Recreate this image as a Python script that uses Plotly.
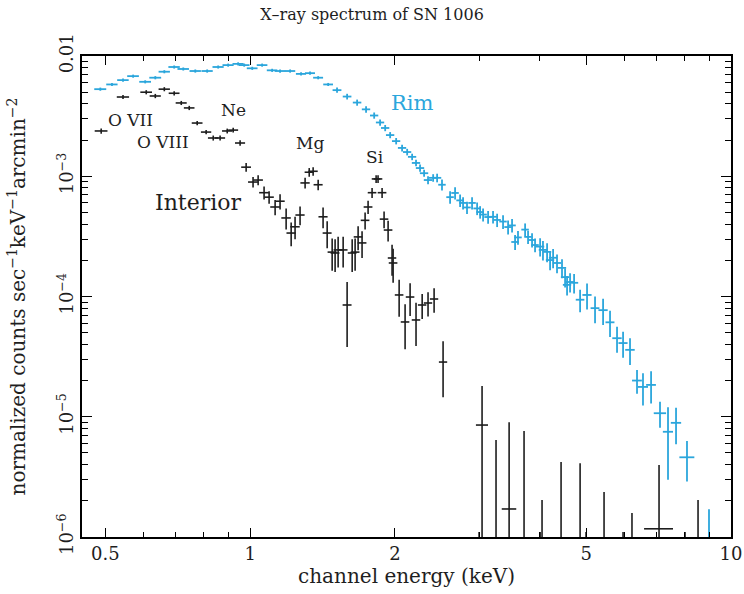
import numpy as np
import plotly.graph_objects as go

# ---------------- data ----------------
# Rim spectrum (blue)
rim_e = [0.488, 0.516, 0.544, 0.571, 0.605, 0.635, 0.663, 0.695, 0.726, 0.769,
         0.814, 0.858, 0.900, 0.944, 0.972, 1.010, 1.059, 1.111, 1.154, 1.211,
         1.276, 1.332, 1.385, 1.453, 1.516, 1.591, 1.669, 1.742, 1.811, 1.863,
         1.909, 1.955, 2.012, 2.070, 2.121, 2.172, 2.213, 2.256, 2.300, 2.344,
         2.402, 2.448, 2.506, 2.605, 2.668, 2.733, 2.772, 2.825, 2.894, 2.965,
         3.008, 3.051, 3.125, 3.200, 3.263, 3.357, 3.439, 3.505, 3.556, 3.606,
         3.731, 3.784, 3.857, 3.913, 4.009, 4.064, 4.145, 4.205, 4.266, 4.347,
         4.452, 4.518, 4.561, 4.627, 4.717, 4.855, 5.019, 5.215, 5.42, 5.603,
         5.794, 5.964, 6.166, 6.376, 6.561, 6.82, 7.118, 7.396, 7.686, 8.10, 9.0]
rim_cts = [5.3e-3, 5.8e-3, 6.3e-3, 6.8e-3, 6.1e-3, 6.6e-3, 7.4e-3, 8.1e-3, 7.8e-3, 7.5e-3,
           7.5e-3, 8.1e-3, 8.4e-3, 8.6e-3, 8.4e-3, 7.9e-3, 8.4e-3, 7.6e-3, 7.5e-3, 7.5e-3,
           7.1e-3, 7.2e-3, 6.6e-3, 5.8e-3, 5.2e-3, 4.6e-3, 4.1e-3, 3.6e-3, 3.2e-3, 2.8e-3,
           2.52e-3, 2.2e-3, 1.96e-3, 1.72e-3, 1.59e-3, 1.45e-3, 1.29e-3, 1.17e-3, 1.06e-3, 9.3e-4,
           9.7e-4, 9.7e-4, 8.5e-4, 6.7e-4, 7.26e-4, 6.3e-4, 6.0e-4, 5.5e-4, 6.0e-4, 5.4e-4,
           5.04e-4, 4.8e-4, 4.58e-4, 4.6e-4, 4.33e-4, 4.2e-4, 3.78e-4, 3.9e-4, 2.84e-4, 3.1e-4,
           3.6e-4, 3.13e-4, 2.95e-4, 2.68e-4, 2.6e-4, 2.44e-4, 2.35e-4, 2.01e-4, 2.1e-4, 1.9e-4,
           1.73e-4, 1.45e-4, 1.25e-4, 1.32e-4, 1.3e-4, 9.4e-5, 1.03e-4, 8.0e-5, 7.7e-5, 6.1e-5,
           4.5e-5, 4.1e-5, 3.6e-5, 2.0e-5, 1.77e-5, 1.84e-5, 1.07e-5, 7.5e-6, 8.9e-6, 4.6e-6, 1.0e-6]
rim_err_hi = [1.6e-4, 1.7e-4, 1.9e-4, 2.0e-4, 1.8e-4, 2.0e-4, 2.2e-4, 2.4e-4, 2.3e-4, 2.3e-4,
              2.3e-4, 2.4e-4, 2.5e-4, 2.6e-4, 2.5e-4, 2.4e-4, 2.5e-4, 2.3e-4, 2.3e-4, 2.3e-4,
              2.1e-4, 2.2e-4, 2.0e-4, 1.7e-4, 2.6e-4, 2.5e-4, 2.4e-4, 2.2e-4, 1.9e-4, 1.7e-4,
              1.5e-4, 1.3e-4, 1.2e-4, 1.1e-4, 1.0e-4, 9e-5, 8e-5, 8e-5, 7e-5, 7e-5,
              7e-5, 8e-5, 9e-5, 8e-5, 8.5e-5, 7.5e-5, 7e-5, 6.5e-5, 7e-5, 6.5e-5,
              6e-5, 6e-5, 5.5e-5, 5.5e-5, 5.5e-5, 5.5e-5, 5e-5, 5e-5, 4e-5, 4e-5,
              4.5e-5, 4e-5, 4e-5, 3.5e-5, 4.5e-5, 4.5e-5, 4.2e-5, 3.6e-5, 3.8e-5, 3.4e-5,
              3.1e-5, 2.6e-5, 2.3e-5, 2.4e-5, 2.4e-5, 2.0e-5, 2.5e-5, 2.0e-5, 1.9e-5, 1.5e-5,
              1.1e-5, 1.0e-5, 9e-6, 4.5e-6, 5.3e-6, 5.5e-6, 2.6e-6, 4.5e-6, 3.0e-6, 1.7e-6, 0.7e-6]
rim_err_lo = rim_err_hi[:-1] + [1.0e-6]
rim_halfwidth = [0.014, 0.014, 0.015, 0.016, 0.017, 0.018, 0.018, 0.019, 0.020, 0.021,
                 0.022, 0.023, 0.024, 0.025, 0.025, 0.026, 0.027, 0.028, 0.029, 0.030,
                 0.031, 0.032, 0.033, 0.034, 0.032, 0.033, 0.034, 0.035, 0.036, 0.037,
                 0.038, 0.039, 0.040, 0.041, 0.042, 0.043, 0.044, 0.045, 0.046, 0.047,
                 0.048, 0.049, 0.045, 0.047, 0.048, 0.049, 0.050, 0.051, 0.052, 0.053,
                 0.054, 0.055, 0.056, 0.058, 0.059, 0.060, 0.062, 0.063, 0.064, 0.065,
                 0.067, 0.068, 0.069, 0.070, 0.080, 0.081, 0.083, 0.084, 0.085, 0.087,
                 0.089, 0.090, 0.091, 0.093, 0.094, 0.10, 0.11, 0.11, 0.12, 0.12,
                 0.13, 0.13, 0.14, 0.15, 0.16, 0.16, 0.21, 0.18, 0.19, 0.29, 0.0]

# Interior spectrum (black)
int_e = [0.490, 0.544, 0.608, 0.635, 0.663, 0.695, 0.719, 0.747, 0.776, 0.810,
         0.838, 0.866, 0.896, 0.922, 0.953, 0.981, 1.014, 1.039, 1.069, 1.095,
         1.127, 1.154, 1.188, 1.217, 1.240, 1.270, 1.301, 1.327, 1.352, 1.385,
         1.418, 1.446, 1.481, 1.502, 1.524, 1.561, 1.591, 1.630, 1.653, 1.677,
         1.709, 1.734, 1.759, 1.793, 1.828, 1.845, 1.881, 1.899, 1.936, 1.973,
         1.983, 2.041, 2.100, 2.151, 2.213, 2.279, 2.344, 2.413, 2.519, 3.036,
         3.456, 7.085]
int_cts = [2.38e-3, 4.56e-3, 5.0e-3, 4.65e-3, 5.3e-3, 4.9e-3, 4.07e-3, 3.7e-3, 2.77e-3, 2.33e-3,
           2.08e-3, 2.08e-3, 2.38e-3, 2.42e-3, 1.89e-3, 1.19e-3, 8.95e-4, 9.3e-4, 7.3e-4, 6.7e-4,
           5.55e-4, 6.2e-4, 4.5e-4, 3.37e-4, 3.8e-4, 4.76e-4, 8.8e-4, 1.08e-3, 1.1e-3, 8.5e-4,
           4.6e-4, 3.37e-4, 2.34e-4, 2.3e-4, 2.44e-4, 2.44e-4, 8.5e-5, 2.3e-4, 2.34e-4, 3.13e-4,
           2.79e-4, 4.3e-4, 5.55e-4, 7.3e-4, 9.5e-4, 9.5e-4, 7.3e-4, 4.4e-4, 3.57e-4, 2.09e-4,
           1.9e-4, 1.03e-4, 6.14e-5, 9.9e-5, 6.38e-5, 8.5e-5, 8.83e-5, 9.53e-5, 2.85e-5, 8.53e-6,
           1.71e-6, 1.17e-6]
int_err_hi = [1.2e-4, 1.8e-4, 2.0e-4, 1.9e-4, 2.1e-4, 2.0e-4, 1.6e-4, 1.5e-4, 1.1e-4, 1.0e-4,
              1.0e-4, 1.0e-4, 1.1e-4, 1.1e-4, 1.0e-4, 1.0e-4, 9e-5, 9e-5, 9e-5, 8e-5,
              8e-5, 9e-5, 9e-5, 7.5e-5, 8e-5, 8.5e-5, 9e-5, 9e-5, 9e-5, 8.5e-5,
              9e-5, 8.5e-5, 7e-5, 7e-5, 7e-5, 7e-5, 4.7e-5, 7e-5, 7e-5, 7e-5,
              7e-5, 7e-5, 7e-5, 7e-5, 7e-5, 7e-5, 7e-5, 7e-5, 7e-5, 6e-5,
              6e-5, 3.5e-5, 2.5e-5, 3e-5, 2.5e-5, 2e-5, 2e-5, 2.2e-5, 1.4e-5, 9.5e-6,
              7.3e-6, 2.8e-6]
int_err_lo = int_err_hi[:-3] + [8.53e-6, 1.71e-6, 1.17e-6]
int_halfwidth = [0.015, 0.016, 0.017, 0.017, 0.018, 0.018, 0.019, 0.019, 0.020, 0.020,
                 0.021, 0.021, 0.022, 0.022, 0.023, 0.023, 0.024, 0.024, 0.025, 0.025,
                 0.026, 0.026, 0.027, 0.027, 0.028, 0.028, 0.029, 0.029, 0.030, 0.030,
                 0.031, 0.031, 0.032, 0.032, 0.033, 0.033, 0.034, 0.034, 0.035, 0.035,
                 0.036, 0.036, 0.037, 0.037, 0.038, 0.038, 0.039, 0.039, 0.040, 0.040,
                 0.041, 0.042, 0.043, 0.044, 0.045, 0.046, 0.047, 0.048, 0.05, 0.088,
                 0.12, 0.49]

# Interior bins whose best value is at/below zero: only the upper error is seen
int_ul_e = [2.993, 3.246, 3.712, 4.009, 4.046, 4.432, 4.855, 4.995, 5.445, 5.964,
            6.224, 8.024, 8.54]
int_ul_top = [1.1e-6, 6.4e-6, 7.6e-6, 1.1e-6, 2.03e-6, 4.2e-6, 4.1e-6, 1.1e-6, 2.37e-6, 1.1e-6,
              1.58e-6, 1.1e-6, 2.03e-6]

# line labels: (text, energy keV, counts, font size)
labels = [("O VII", 0.565, 2.94e-3, 17),
          ("O VIII", 0.659, 1.93e-3, 17),
          ("Ne", 0.922, 3.56e-3, 17),
          ("Mg", 1.332, 1.89e-3, 17),
          ("Si", 1.82, 1.45e-3, 17),
          ("Interior", 0.78, 6.0e-4, 22)]
rim_label = ("Rim", 2.18, 4.07e-3)

x_tickvals = [0.5, 1, 2, 5, 10]
x_ticktext = ["0.5", "1", "2", "5", "10"]
y_tickvals = [1e-6, 1e-5, 1e-4, 1e-3, 1e-2]
y_ticktext = ["10<sup>\u22126</sup>", "10<sup>\u22125</sup>", "10<sup>\u22124</sup>",
              "10<sup>\u22123</sup>", "0.01"]

BLUE = "#2ba6dc"
BLACK = "#1e1e1e"
FONT = "DejaVu Serif"

fig = go.Figure()

fig.add_trace(go.Scatter(
    x=rim_e, y=rim_cts, mode="markers", name="Rim",
    marker=dict(size=1, color=BLUE),
    error_x=dict(type="data", array=rim_halfwidth, color=BLUE, thickness=1.8, width=0),
    error_y=dict(type="data", symmetric=False, array=rim_err_hi, arrayminus=rim_err_lo,
                 color=BLUE, thickness=1.8, width=0),
    showlegend=False))

fig.add_trace(go.Scatter(
    x=int_e, y=int_cts, mode="markers", name="Interior",
    marker=dict(size=1, color=BLACK),
    error_x=dict(type="data", array=int_halfwidth, color=BLACK, thickness=1.6, width=0),
    error_y=dict(type="data", symmetric=False, array=int_err_hi, arrayminus=int_err_lo,
                 color=BLACK, thickness=1.6, width=0),
    showlegend=False))

fig.add_trace(go.Scatter(
    x=int_ul_e, y=int_ul_top, mode="markers", name="Interior (upper)",
    marker=dict(size=1, color=BLACK, opacity=0),
    error_y=dict(type="data", symmetric=False, array=[0] * len(int_ul_top),
                 arrayminus=int_ul_top, color=BLACK, thickness=1.6, width=0),
    showlegend=False))

for txt, ex, ey, fs in labels:
    fig.add_annotation(x=np.log10(ex), y=np.log10(ey), xref="x", yref="y", text=txt,
                       showarrow=False, font=dict(family=FONT, size=fs, color=BLACK))
fig.add_annotation(x=np.log10(rim_label[1]), y=np.log10(rim_label[2]), xref="x", yref="y",
                   text=rim_label[0], showarrow=False,
                   font=dict(family=FONT, size=21, color=BLUE))

axis_common = dict(showline=True, linecolor="black", linewidth=1.5, mirror="allticks",
                   ticks="inside", tickcolor="black", tickwidth=1.3, showgrid=False,
                   zeroline=False, automargin=False,
                   tickfont=dict(family=FONT, size=18, color=BLACK))

fig.update_xaxes(type="log", range=[np.log10(0.447), 1.0],
                 tickvals=x_tickvals, ticktext=x_ticktext, ticklen=9,
                 minor=dict(dtick="D1", ticks="inside", ticklen=5, tickcolor="black",
                            tickwidth=1.2, showgrid=False),
                 title=dict(text="channel energy (keV)",
                            font=dict(family=FONT, size=20, color=BLACK), standoff=6),
                 **axis_common)
fig.update_yaxes(type="log", range=[-6, -2],
                 tickvals=y_tickvals, ticktext=y_ticktext, ticklen=10, tickangle=-90,
                 minor=dict(dtick="D1", ticks="inside", ticklen=6, tickcolor="black",
                            tickwidth=1.2, showgrid=False),
                 title=dict(text="normalized counts sec<sup>\u22121</sup>keV<sup>\u22121</sup>arcmin<sup>\u22122</sup>",
                            font=dict(family=FONT, size=20, color=BLACK), standoff=22),
                 **axis_common)

fig.update_layout(
    width=744, height=594,
    margin=dict(l=82, r=13, t=56, b=57),
    paper_bgcolor="white", plot_bgcolor="white",
    title=dict(text="X\u2013ray spectrum of SN 1006", x=0.5, xanchor="center",
               y=0.975, yanchor="middle",
               font=dict(family=FONT, size=16, color=BLACK)),
)

fig.write_html("out.html")
